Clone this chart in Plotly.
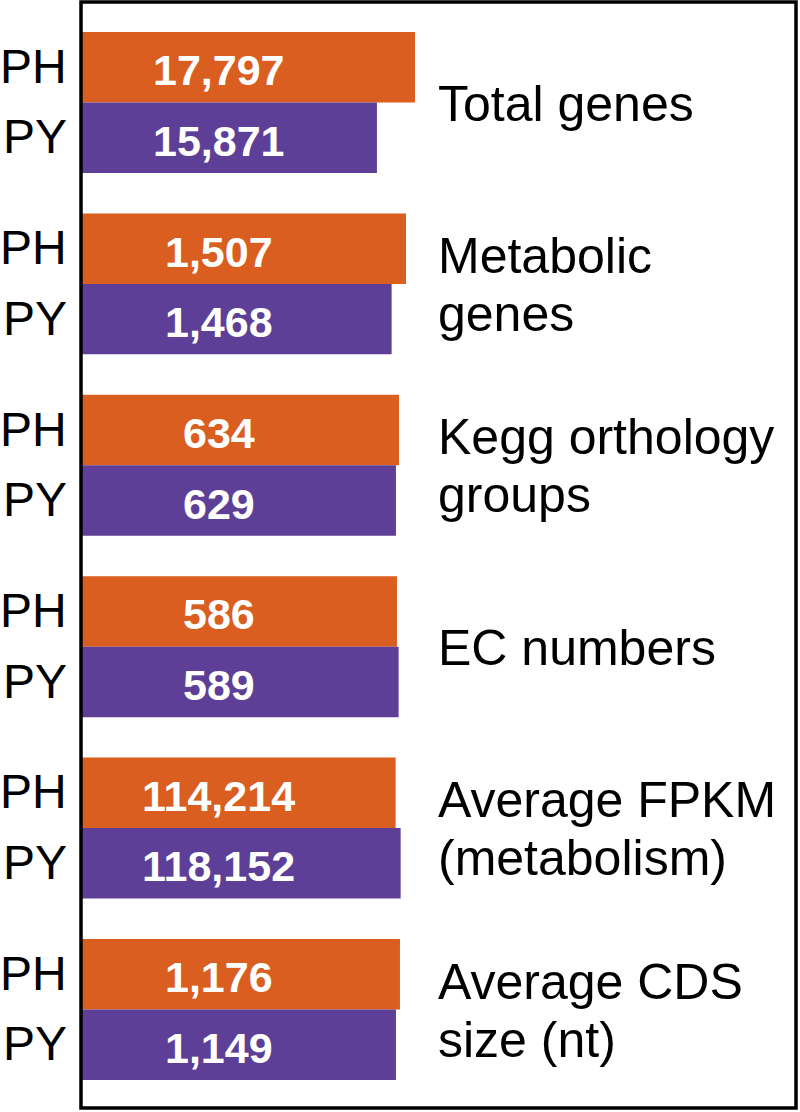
import plotly.graph_objects as go

# ---- data ----
categories = ["Total genes", "Metabolic<br>genes", "Kegg orthology<br>groups",
              "EC numbers", "Average FPKM<br>(metabolism)", "Average CDS<br>size (nt)"]
series_names = ["PH", "PY"]
ph_values = [17797, 1507, 634, 586, 114214, 1176]
py_values = [15871, 1468, 629, 589, 118152, 1149]
# drawn bar lengths (relative units, PH total genes = 100)
ph_bar_len = [100.0, 97.3, 95.2, 94.6, 94.2, 95.5]
py_bar_len = [88.6, 93.0, 94.3, 95.1, 95.7, 94.3]

ORANGE = "#D95E20"
PURPLE = "#5E3F97"
FONT = "Liberation Sans"

fig = go.Figure()
fig.add_trace(go.Bar(y=categories, x=ph_bar_len, orientation="h", name=series_names[0],
                     marker=dict(color=ORANGE, line=dict(width=0)), hoverinfo="skip"))
fig.add_trace(go.Bar(y=categories, x=py_bar_len, orientation="h", name=series_names[1],
                     marker=dict(color=PURPLE, line=dict(width=0)), hoverinfo="skip"))

ann = []
half = 35.3  # px between group centre and bar centre
for i, cat in enumerate(categories):
    for vals, sh, name in ((ph_values, half, series_names[0]), (py_values, -half, series_names[1])):
        ann.append(dict(x=41.3, y=cat, xref="x", yref="y", text=f"{vals[i]:,}",
                        showarrow=False, xanchor="center", yanchor="middle", yshift=sh - 3,
                        font=dict(family=FONT, size=43, color="white", weight="bold")))
        ann.append(dict(x=-0.0168, y=cat, xref="paper", yref="y", text=name,
                        showarrow=False, xanchor="right", yanchor="middle", yshift=sh + 1,
                        font=dict(family=FONT, size=48, color="black")))
    lines = cat.split("<br>")
    shifts = [-1] if len(lines) == 1 else [28, -30]
    for line, s in zip(lines, shifts):
        ann.append(dict(x=0.497, y=cat, xref="paper", yref="y", text=line,
                        showarrow=False, xanchor="left", yanchor="middle", yshift=s,
                        font=dict(family=FONT, size=50, color="black")))

fig.update_layout(
    width=800, height=1112,
    margin=dict(l=81, r=4, t=2, b=4),
    paper_bgcolor="white", plot_bgcolor="white",
    barmode="group", bargap=0.223, bargroupgap=0,
    showlegend=False,
    xaxis=dict(range=[0, 214.07], showgrid=False, zeroline=False, showticklabels=False,
               showline=False, fixedrange=True),
    yaxis=dict(type="category", range=[5.543, -0.554], showgrid=False, zeroline=False,
               showticklabels=False, showline=False, fixedrange=True),
    annotations=ann,
    shapes=[dict(type="rect", xref="paper", yref="paper", x0=0, x1=1, y0=0, y1=1,
                 line=dict(color="black", width=3.5), layer="above")],
)

fig.write_html("out.html", config={"displayModeBar": False},
               post_script="document.body.style.margin='0px';document.body.style.overflow='hidden';")
